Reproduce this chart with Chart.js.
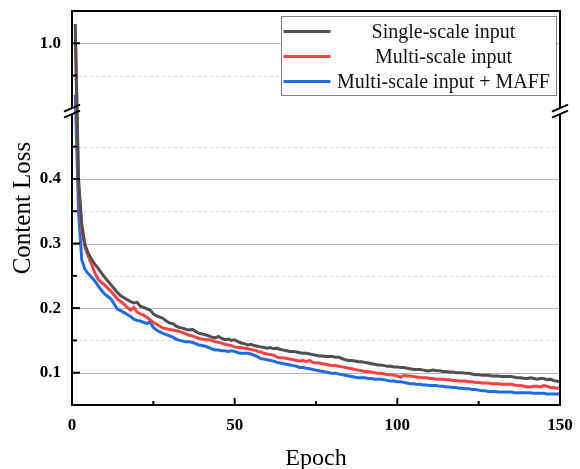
<!DOCTYPE html>
<html>
<head>
<meta charset="utf-8">
<script src="https://cdn.jsdelivr.net/npm/chart.js@4.4.0/dist/chart.umd.min.js"></script>
<style>
  html, body { margin: 0; padding: 0; background: #fff; }
</style>
</head>
<body>
<canvas id="chart" width="580" height="469"></canvas>
<script>
/* ── Data ─────────────────────────────────────────────────────────────── */
const epochs = Array.from({ length: 150 }, (_, i) => i + 1);

const singleScale = [
  1.03, 0.40, 0.33, 0.298, 0.285, 0.276, 0.268, 0.262, 0.255, 0.248,
  0.242, 0.236, 0.230, 0.224, 0.219, 0.216, 0.213, 0.210, 0.208, 0.209,
  0.203, 0.201, 0.199, 0.197, 0.191, 0.188, 0.186, 0.184, 0.180, 0.177,
  0.176, 0.172, 0.170, 0.169, 0.167, 0.166, 0.167, 0.164, 0.161, 0.160,
  0.159, 0.157, 0.155, 0.154, 0.156, 0.153, 0.151, 0.152, 0.150, 0.151,
  0.148, 0.146, 0.145, 0.143, 0.144, 0.142, 0.141, 0.140, 0.139, 0.138,
  0.139, 0.137, 0.138, 0.136, 0.135, 0.134, 0.133, 0.133, 0.132, 0.131,
  0.130, 0.130, 0.129, 0.128, 0.127, 0.126, 0.126, 0.125, 0.125, 0.125,
  0.124, 0.124, 0.122, 0.120, 0.119, 0.119, 0.118, 0.117, 0.117, 0.116,
  0.115, 0.114, 0.113, 0.112, 0.112, 0.111, 0.110, 0.110, 0.109, 0.109,
  0.108, 0.108, 0.107, 0.106, 0.105, 0.105, 0.105, 0.104, 0.103, 0.103,
  0.104, 0.103, 0.103, 0.102, 0.102, 0.101, 0.101, 0.100, 0.100, 0.100,
  0.099, 0.099, 0.098, 0.097, 0.097, 0.096, 0.096, 0.096, 0.095, 0.095,
  0.095, 0.094, 0.094, 0.094, 0.094, 0.093, 0.092, 0.092, 0.091, 0.091,
  0.092, 0.091, 0.090, 0.091, 0.091, 0.089, 0.090, 0.088, 0.087, 0.086
];

const multiScale = [
  1.015, 0.39, 0.32, 0.295, 0.280, 0.268, 0.255, 0.245, 0.240, 0.236,
  0.231, 0.226, 0.220, 0.214, 0.210, 0.206, 0.201, 0.197, 0.201, 0.194,
  0.191, 0.189, 0.186, 0.182, 0.178, 0.175, 0.172, 0.169, 0.168, 0.167,
  0.166, 0.165, 0.164, 0.162, 0.160, 0.158, 0.157, 0.155, 0.153, 0.152,
  0.151, 0.151, 0.150, 0.148, 0.147, 0.146, 0.144, 0.143, 0.142, 0.140,
  0.139, 0.139, 0.138, 0.137, 0.136, 0.135, 0.133, 0.132, 0.130, 0.129,
  0.128, 0.127, 0.124, 0.123, 0.123, 0.122, 0.121, 0.120, 0.119, 0.118,
  0.119, 0.117, 0.119, 0.116, 0.115, 0.115, 0.114, 0.113, 0.112, 0.111,
  0.111, 0.110, 0.109, 0.108, 0.107, 0.106, 0.105, 0.104, 0.103, 0.102,
  0.102, 0.101, 0.100, 0.099, 0.099, 0.098, 0.097, 0.097, 0.096, 0.095,
  0.093, 0.096, 0.095, 0.095, 0.094, 0.093, 0.093, 0.092, 0.092, 0.091,
  0.091, 0.090, 0.090, 0.090, 0.089, 0.089, 0.088, 0.088, 0.087, 0.087,
  0.087, 0.086, 0.086, 0.085, 0.085, 0.084, 0.084, 0.084, 0.083, 0.083,
  0.083, 0.082, 0.082, 0.082, 0.082, 0.081, 0.080, 0.080, 0.079, 0.078,
  0.078, 0.079, 0.079, 0.078, 0.080, 0.079, 0.077, 0.077, 0.076, 0.076
];

const multiScaleMaff = [
  0.92, 0.35, 0.275, 0.260, 0.253, 0.248, 0.242, 0.235, 0.228, 0.222,
  0.218, 0.214, 0.206, 0.198, 0.196, 0.193, 0.190, 0.187, 0.183, 0.181,
  0.180, 0.178, 0.176, 0.179, 0.170, 0.166, 0.163, 0.161, 0.159, 0.157,
  0.155, 0.152, 0.150, 0.149, 0.148, 0.148, 0.147, 0.145, 0.143, 0.142,
  0.141, 0.139, 0.137, 0.135, 0.135, 0.134, 0.134, 0.133, 0.134, 0.133,
  0.131, 0.130, 0.130, 0.130, 0.129, 0.127, 0.125, 0.122, 0.121, 0.120,
  0.119, 0.118, 0.116, 0.115, 0.114, 0.113, 0.112, 0.111, 0.110, 0.108,
  0.108, 0.107, 0.106, 0.105, 0.104, 0.103, 0.102, 0.101, 0.100, 0.099,
  0.099, 0.098, 0.097, 0.096, 0.095, 0.094, 0.093, 0.092, 0.092, 0.092,
  0.091, 0.091, 0.090, 0.090, 0.090, 0.089, 0.088, 0.087, 0.087, 0.086,
  0.086, 0.085, 0.084, 0.083, 0.083, 0.082, 0.082, 0.081, 0.081, 0.080,
  0.080, 0.080, 0.079, 0.079, 0.078, 0.078, 0.077, 0.077, 0.076, 0.076,
  0.075, 0.075, 0.074, 0.074, 0.073, 0.072, 0.072, 0.071, 0.071, 0.071,
  0.070, 0.070, 0.070, 0.070, 0.070, 0.069, 0.069, 0.069, 0.069, 0.069,
  0.069, 0.068, 0.068, 0.068, 0.068, 0.067, 0.067, 0.067, 0.067, 0.067
];

const seriesNames = ['Single-scale input', 'Multi-scale input', 'Multi-scale input + MAFF'];
const xTicks  = [0, 25, 50, 75, 100, 125, 150];
const xLabels = [0, 50, 100, 150];
const yTicks  = [0.1, 0.15, 0.2, 0.25, 0.3, 0.35, 0.4, 0.45, 0.95, 1.0];
const yLabels = [0.1, 0.2, 0.3, 0.4, 1.0];

/* ── Broken y axis: 0.05–0.5 below, 0.9–1.05 above ───────────────────── */
const BREAK_LOW  = 0.5;
const BREAK_HIGH = 0.9;
const GAP        = 0.01;
const SHIFT      = BREAK_HIGH - BREAK_LOW - GAP;
const toAxis   = v => v > BREAK_LOW ? v - SHIFT : v;
const fromAxis = a => a > BREAK_LOW + GAP / 2 ? a + SHIFT : a;
const isIn = (list, v) => list.some(t => Math.abs(t - v) < 1e-6);

const serif = '"Liberation Serif", "Times New Roman", serif';
Chart.defaults.font.family = serif;
Chart.defaults.color = '#000';

function serie(label, values, color) {
  return {
    label,
    data: values.map((v, i) => ({ x: epochs[i], y: toAxis(v) })),
    borderColor: color,
    borderWidth: 3,
    pointRadius: 0,
    tension: 0,
    fill: false
  };
}

/* ── Plugin: grid, inner ticks, frame, break marks, legend ────────────── */
const decor = {
  id: 'decor',
  beforeDatasetsDraw(chart) {
    const { ctx, chartArea: a, scales: { y } } = chart;
    ctx.save();
    ctx.lineWidth = 1;
    yTicks.forEach(v => {
      const py = Math.round(y.getPixelForValue(toAxis(v))) + 0.5;
      const major = isIn(yLabels, v);
      ctx.strokeStyle = major ? '#b4b4b4' : '#dedede';
      ctx.setLineDash(major ? [] : [3, 3]);
      ctx.beginPath(); ctx.moveTo(a.left, py); ctx.lineTo(a.right, py); ctx.stroke();
    });
    ctx.restore();
  },
  afterDatasetsDraw(chart) {
    const { ctx, chartArea: a, scales: { x, y } } = chart;
    ctx.save();
    ctx.strokeStyle = '#000';
    ctx.lineWidth = 2;
    // inner ticks
    xTicks.forEach(v => {
      const px = x.getPixelForValue(v);
      const len = isIn(xLabels, v) ? 7 : 4;
      ctx.beginPath(); ctx.moveTo(px, a.bottom); ctx.lineTo(px, a.bottom - len); ctx.stroke();
    });
    yTicks.forEach(v => {
      const py = y.getPixelForValue(toAxis(v));
      const len = isIn(yLabels, v) ? 8 : 5;
      ctx.beginPath(); ctx.moveTo(a.left, py); ctx.lineTo(a.left + len, py); ctx.stroke();
    });
    // frame
    ctx.strokeRect(a.left, a.top, a.right - a.left, a.bottom - a.top);
    // break marks on both vertical axes
    const yb = y.getPixelForValue(BREAK_LOW + GAP / 2);
    [a.left, a.right].forEach(ax => {
      ctx.fillStyle = '#fff';
      ctx.fillRect(ax - 2, yb - 3, 4, 6);
      [-3, 3].forEach(d => {
        ctx.beginPath();
        ctx.moveTo(ax - 8, yb + d + 3.5);
        ctx.lineTo(ax + 8, yb + d - 3.5);
        ctx.stroke();
      });
    });
    // legend
    const bx = 281.5, by = 16.5, bw = 275, bh = 79;
    ctx.fillStyle = '#fff';
    ctx.fillRect(bx, by, bw, bh);
    ctx.lineWidth = 1;
    ctx.strokeStyle = '#808080';
    ctx.strokeRect(bx, by, bw, bh);
    ctx.font = '20px ' + serif;
    ctx.textAlign = 'center';
    ctx.textBaseline = 'middle';
    chart.data.datasets.forEach((ds, i) => {
      const ly = by + 15 + i * 25;
      ctx.strokeStyle = ds.borderColor;
      ctx.lineWidth = 3;
      ctx.beginPath(); ctx.moveTo(bx + 2, ly); ctx.lineTo(bx + 49, ly); ctx.stroke();
      ctx.fillStyle = '#111';
      ctx.fillText(ds.label, 443.5, ly + 1);
    });
    ctx.restore();
  }
};

new Chart(document.getElementById('chart'), {
  type: 'line',
  data: {
    datasets: [
      serie(seriesNames[0], singleScale,    '#505050'),
      serie(seriesNames[1], multiScale,     '#ff4040'),
      serie(seriesNames[2], multiScaleMaff, '#1f6be3')
    ]
  },
  options: {
    responsive: false,
    animation: false,
    devicePixelRatio: 1,
    layout: { padding: { top: 11, right: 20, left: 0, bottom: 0 } },
    plugins: { legend: { display: false }, tooltip: { enabled: false } },
    scales: {
      x: {
        type: 'linear',
        min: 0, max: 150,
        grid: { display: false, drawTicks: false },
        border: { display: false },
        afterBuildTicks: s => { s.ticks = xTicks.map(v => ({ value: v })); },
        afterFit: s => { s.height = 64; s.paddingLeft = 0; s.paddingRight = 0; },
        ticks: {
          padding: 10,
          maxRotation: 0,
          autoSkip: false,
          font: { size: 17, weight: 'bold' },
          callback: v => isIn(xLabels, v) ? String(v) : ''
        },
        title: {
          display: true,
          text: 'Epoch',
          font: { size: 24 },
          padding: { top: 0, bottom: -4 }
        }
      },
      y: {
        type: 'linear',
        min: 0.05, max: toAxis(1.05),
        grid: { display: false, drawTicks: false },
        border: { display: false },
        afterBuildTicks: s => { s.ticks = yTicks.map(v => ({ value: toAxis(v) })); },
        afterFit: s => { s.width = 72; s.paddingTop = 0; s.paddingBottom = 0; },
        ticks: {
          padding: 11,
          autoSkip: false,
          font: { size: 17, weight: 'bold' },
          callback: v => {
            const o = fromAxis(v);
            return isIn(yLabels, o) ? o.toFixed(1) : '';
          }
        },
        title: {
          display: true,
          text: 'Content Loss',
          font: { size: 25 },
          padding: { top: 8, bottom: 0 }
        }
      }
    }
  },
  plugins: [decor]
});
</script>
</body>
</html>
